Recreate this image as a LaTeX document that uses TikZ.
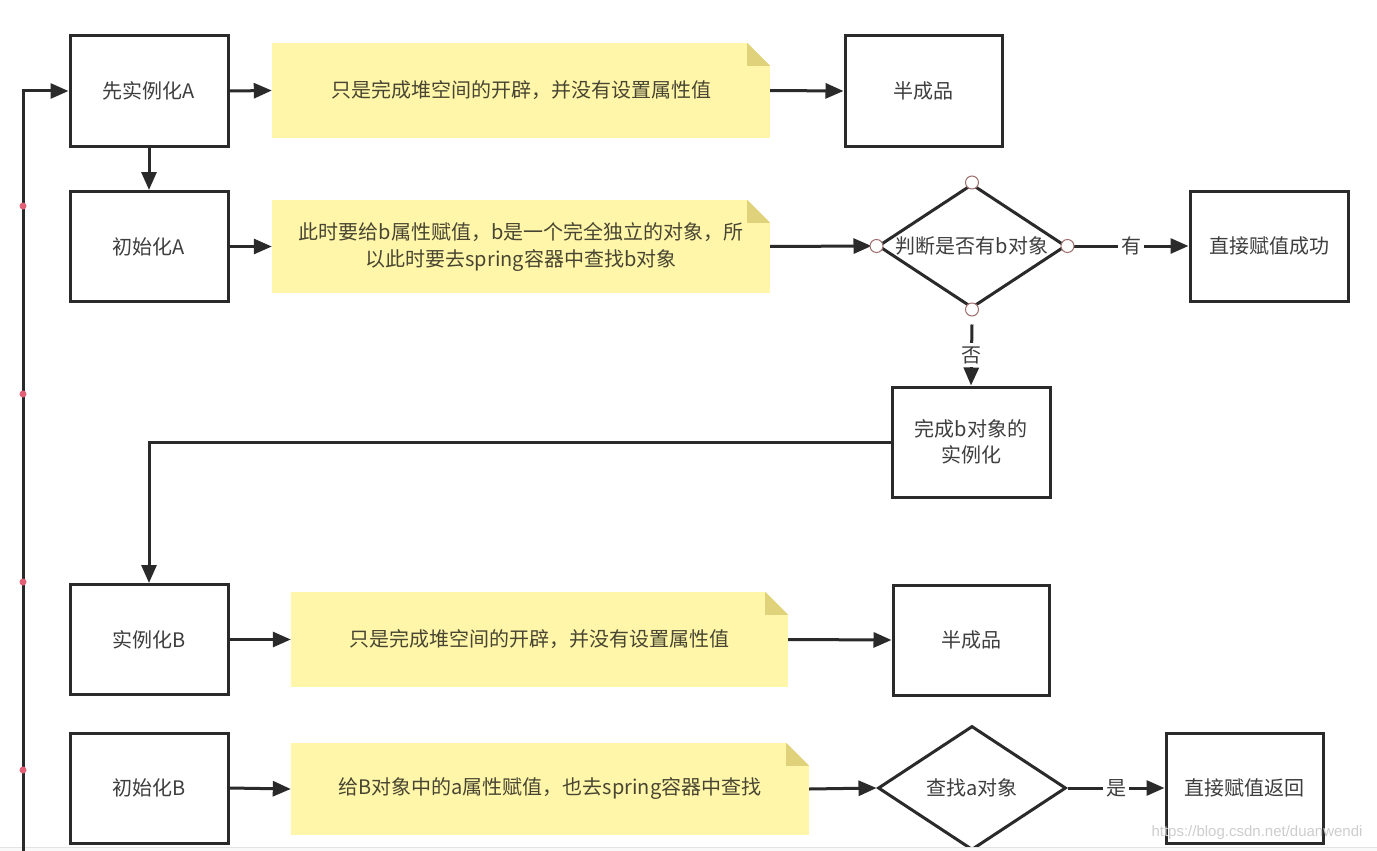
\documentclass[tikz,border=0pt]{standalone}
\usepackage{fontspec}
\setmainfont{Noto Sans CJK SC}
\newfontfamily\wmfont{Liberation Sans}
\usetikzlibrary{shapes.geometric,arrows.meta}
\definecolor{noteyel}{RGB}{255,246,170}
\definecolor{notefoldc}{RGB}{224,210,122}
\definecolor{linec}{RGB}{42,42,42}
\definecolor{txtc}{RGB}{62,62,62}
\definecolor{notetxt}{RGB}{72,70,50}
\definecolor{handlec}{RGB}{160,110,110}
\definecolor{waypt}{RGB}{228,96,118}
\newcommand\notefold[1]{%
  \fill[white] ([xshift=-23pt]#1.north east) -- (#1.north east) -- ([yshift=-23pt]#1.north east) -- cycle;
  \fill[notefoldc] ([xshift=-23pt]#1.north east) -- ([xshift=-23pt,yshift=-23pt]#1.north east) -- ([yshift=-23pt]#1.north east) -- cycle;}
\begin{document}
\begin{tikzpicture}[x=1pt,y=-1pt,
  box/.style={draw=linec, line width=3pt, rectangle, minimum width=158pt, minimum height=110pt,
    inner sep=0pt, text=txtc, font=\fontsize{20}{26}\selectfont, align=center},
  note/.style={fill=noteyel, rectangle, inner sep=0pt, text=notetxt,
    font=\fontsize{20}{27}\selectfont, align=center},
  dia/.style={draw=linec, line width=3pt, diamond, minimum width=188pt, minimum height=124pt, inner sep=0pt},
  diatxt/.style={text=txtc, font=\fontsize{20}{26}\selectfont, inner sep=0pt},
  arr/.style={draw=linec, line width=3pt, -{Triangle[length=18pt,width=15pt]}},
  lbl/.style={fill=white, text=txtc, font=\fontsize{20}{24}\selectfont, inner sep=3pt},
  hdl/.style={circle, draw=handlec, fill=white, line width=1pt, minimum size=13pt, inner sep=0pt},
  wpt/.style={fill=waypt}
]
\useasboundingbox (0,0) rectangle (1377,851);
\fill[white] (0,0) rectangle (1377,851);

% boxes
\node[box] (a1) at (149,91) {先实例化A};
\node[box] (hcp1) at (923.5,91) [minimum width=157pt] {半成品};
\node[box] (a2) at (149,246.5) {初始化A};
\node[box] (ok1) at (1269,246) {直接赋值成功};
\node[box] (bdone) at (971,442) {完成b对象的\\实例化};
\node[box] (b1) at (149,639.5) {实例化B};
\node[box] (hcp2) at (971,640) [minimum width=156pt] {半成品};
\node[box] (b2) at (149,788) {初始化B};
\node[box] (ok2) at (1244.5,788) [minimum width=157pt] {直接赋值返回};

% notes
\node[note, minimum width=498pt, minimum height=95pt] (n1) at (521,90.5) {只是完成堆空间的开辟，并没有设置属性值};
\node[note, minimum width=498pt, minimum height=93pt] (n2) at (521,246.5) {此时要给b属性赋值，b是一个完全独立的对象，所\\以此时要去spring容器中查找b对象};
\node[note, minimum width=497pt, minimum height=95pt] (n3) at (539.5,639.5) {只是完成堆空间的开辟，并没有设置属性值};
\node[note, minimum width=518pt, minimum height=92pt] (n4) at (550,789) {给B对象中的a属性赋值，也去spring容器中查找};
\notefold{n1}
\notefold{n2}
\notefold{n3}
\notefold{n4}

% diamonds
\node[dia] (d1) at (972,246) {};
\node[diatxt] (d1t) at (d1.center) {判断是否有b对象};
\node[dia] (d2) at (972,788) {};
\node[diatxt] (d2t) at (d2.center) {查找a对象};

% watermark
\node[font=\wmfont\fontsize{15}{18}\selectfont, text={rgb,255:red,205;green,205;blue,205}, inner sep=0pt] (wm) at (1257,833) {https://blog.csdn.net/duanwendi};

% bottom screen strip
\fill[gray!5] (0,847.5) rectangle (1377,851);
\draw[gray!22, line width=1pt] (0,847.5) -- (1377,847.5);

% connectors
\coordinate (loopstart) at (23,851);
\draw[arr] (loopstart) |- (a1.west);
\draw[arr] (a1.east) -- (n1.west);
\draw[arr] (n1.east) -- (hcp1.west);
\draw[arr] (a1.south) -- (a2.north);
\draw[arr] (a2.east) -- (n2.west);
\draw[arr] (n2.east) -- ([xshift=-5pt]d1.west);
\draw[arr] ([xshift=6pt]d1.east) -- node[lbl] (lyou) {有} (ok1.west);
\draw[arr] ([yshift=-15pt]d1.south) -- node[lbl] (lfou) {否} (bdone.north);
\draw[arr] (bdone.west) -| (b1.north);
\draw[arr] (b1.east) -- (n3.west);
\draw[arr] (n3.east) -- (hcp2.west);
\draw[arr] (b2.east) -- (n4.west);
\draw[arr] (n4.east) -- (d2.west);
\draw[arr] (d2.east) -- node[lbl] (lshi) {是} (ok2.west);

% selection handles on the first diamond
\node[hdl] (hN) at (d1.north) {};
\node[hdl] (hS) at (d1.south) {};
\node[hdl] (hW) at (d1.west) {};
\node[hdl] (hE) at (d1.east) {};

% waypoints on the loop line
\fill[wpt] (23,206) circle (3.5pt);
\fill[wpt] (23,394) circle (3.5pt);
\fill[wpt] (23,582) circle (3.5pt);
\fill[wpt] (23,770) circle (3.5pt);
\end{tikzpicture}
\end{document}
